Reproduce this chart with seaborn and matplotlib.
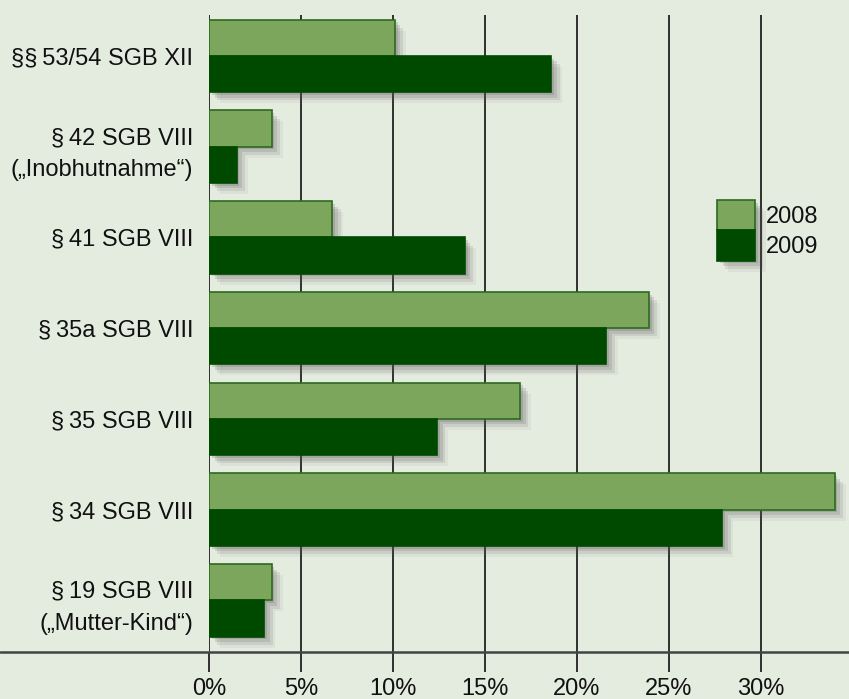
import matplotlib
matplotlib.use("Agg")
import matplotlib.pyplot as plt
import matplotlib.patheffects as pe
from matplotlib.patches import Patch
import seaborn as sns
import pandas as pd

labels = ["§§\u200953/54 SGB XII",
          "§\u200942 SGB VIII\n(„Inobhutnahme“)",
          "§\u200941 SGB VIII",
          "§\u200935a SGB VIII",
          "§\u200935 SGB VIII",
          "§\u200934 SGB VIII",
          "§\u200919 SGB VIII\n(„Mutter-Kind“)"]
years = ["2008", "2009"]
v2008 = [10.1, 3.4, 6.7, 23.9, 16.9, 34.0, 3.4]
v2009 = [18.6, 1.5, 13.9, 21.6, 12.4, 27.9, 3.0]
xticks = [0, 5, 10, 15, 20, 25, 30]

bg = "#e4ebdf"
c08 = "#7ba65b"
c09 = "#004a00"
fs = 17

df = pd.DataFrame({
    "label": labels * 2,
    "year": [years[0]] * len(labels) + [years[1]] * len(labels),
    "value": v2008 + v2009,
})

sns.set_style("white")
plt.rcParams["font.family"] = ["Liberation Sans", "DejaVu Sans"]

fig = plt.figure(figsize=(8.49, 6.99), dpi=100, facecolor=bg)
ax = fig.add_axes([209 / 849, 1 - 652 / 699, 640 / 849, (652 - 15) / 699])
ax.set_facecolor(bg)

sns.barplot(data=df, x="value", y="label", hue="year", hue_order=years,
            palette=[c08, c09], orient="h", width=0.8, saturation=1,
            ax=ax, zorder=3, legend=False)

# soft drop shadow, built from a few offset copies
shadow = [pe.SimplePatchShadow(offset=(8, -8), shadow_rgbFace="#666666", alpha=0.07),
          pe.SimplePatchShadow(offset=(6, -6), shadow_rgbFace="#555555", alpha=0.12),
          pe.SimplePatchShadow(offset=(4, -4), shadow_rgbFace="#555555", alpha=0.16),
          pe.SimplePatchShadow(offset=(2, -2), shadow_rgbFace="#555555", alpha=0.2),
          pe.Normal()]
edges = ["#2c6a1f", c09]
for cont, ec in zip(ax.containers, edges):
    for bar in cont:
        bar.set_edgecolor(ec)
        bar.set_linewidth(1.2)
        bar.set_path_effects(shadow)

ax.set_xlim(0, 640 / 18.4)
ax.set_ylim(6.57, -0.45)
ax.set_xticks(xticks)
ax.set_xticklabels([f"{t}%" for t in xticks], fontsize=fs, color="#111111")
ax.tick_params(axis="x", bottom=True, direction="out", length=14.5, width=1.2,
               color="#111111", pad=4.5)
ax.tick_params(axis="y", left=False, length=0, pad=11.5, labelsize=fs,
               labelcolor="#111111")
for t in ax.get_yticklabels():
    t.set_multialignment("right")
    t.set_linespacing(1.6)
ax.grid(axis="x", color="#111111", linewidth=1.2, zorder=0)
ax.set_axisbelow(True)
ax.set_xlabel("")
ax.set_ylabel("")
for s in ax.spines.values():
    s.set_visible(False)

ax.axhline(6.57, xmin=-209 / 640, xmax=1, color="#444444", linewidth=1.8,
           clip_on=False, zorder=4)

handles = [Patch(facecolor=c08, edgecolor=edges[0], linewidth=1.2),
           Patch(facecolor=c09, edgecolor=c09, linewidth=1.2)]
leg = fig.legend(handles, years, loc="upper left",
                 bbox_to_anchor=(717 / 849, 1 - 200 / 699), frameon=False,
                 fontsize=fs, handlelength=1.6, handleheight=1.6,
                 handletextpad=0.45, labelspacing=0, borderpad=0,
                 borderaxespad=0)
for h in leg.legend_handles:
    h.set_path_effects(shadow)
for t in leg.get_texts():
    t.set_color("#111111")

fig.savefig("out.png", dpi=100, facecolor=bg)
